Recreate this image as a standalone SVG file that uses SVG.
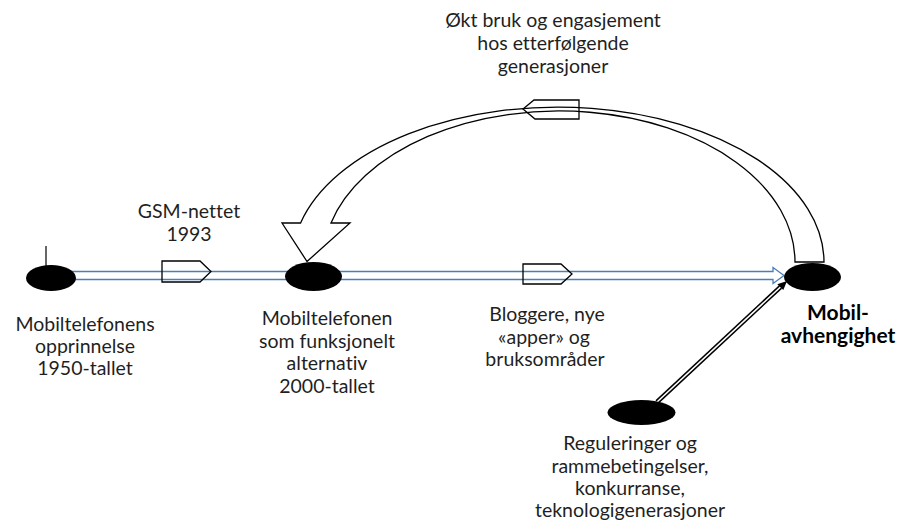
<svg xmlns="http://www.w3.org/2000/svg" width="900" height="524" viewBox="0 0 900 524">
  <style>
    .node { fill: #000; }
    .lbl { font-family: Lato, "Open Sans", sans-serif; font-size: 19.5px; fill: #1f1f1f; text-anchor: middle; font-variant-ligatures: none; font-feature-settings: "liga" 0, "clig" 0; }
    .bold { font-weight: bold; font-size: 21px; fill: #000; }
    .tag { fill: none; stroke: #000; stroke-width: 1.3; stroke-linejoin: miter; }
    .flow { fill: #fff; stroke: #4A7EBB; stroke-width: 1.3; }
    .loop { fill: #fff; stroke: #000; stroke-width: 1.3; stroke-linejoin: miter; }
  </style>

  <g id="connectors">
    <!-- timeline: hollow blue arrow with a narrow shaft -->
    <path class="flow" d="M 50 271.5 L 773 271.5 L 773 267.5 L 784 275.5 L 773 283.5 L 773 279.5 L 50 279.5 Z"/>
    <!-- start tick -->
    <line x1="46" y1="246" x2="46" y2="268" stroke="#000" stroke-width="1.2"/>
    <!-- feedback loop: curved block arrow back to the 2000s node -->
    <path class="loop" d="M 824 262 A 266 155 0 0 0 300.6 223 L 282 223 L 307 261.5 L 350 223 L 331 223 A 236 151 0 0 1 795 262 Z"/>
    <!-- regulation: double line with arrowhead -->
    <line x1="657" y1="402" x2="780.5" y2="287" stroke="#000" stroke-width="4.6"/>
    <line x1="657" y1="402" x2="780.5" y2="287" stroke="#fff" stroke-width="1.6"/>
    <polygon points="787,281 783.3,290 777.3,284.3" fill="#000"/>
    <!-- pentagon tags on the timeline and the loop -->
    <polygon class="tag" points="162,261 200,261 211,271.5 200,282 162,282"/>
    <polygon class="tag" points="523,264 561,264 572,274 561,284 523,284"/>
    <polygon class="tag" points="523,109 534,100 579,100 579,119 535,119"/>
  </g>

  <g id="n-origin">
    <ellipse class="node" cx="51" cy="278" rx="25" ry="13"/>
    <text class="lbl" x="85" y="330.5">Mobiltelefonens</text>
    <text class="lbl" x="85" y="352.5">opprinnelse</text>
    <text class="lbl" x="85" y="375">1950-tallet</text>
  </g>

  <g id="n-gsm">
    <text class="lbl" x="189" y="218">GSM-nettet</text>
    <text class="lbl" x="189" y="241">1993</text>
  </g>

  <g id="n-alternative">
    <ellipse class="node" cx="313.5" cy="276.5" rx="28.5" ry="14.5"/>
    <text class="lbl" x="327" y="325">Mobiltelefonen</text>
    <text class="lbl" x="327" y="347.5">som funksjonelt</text>
    <text class="lbl" x="327" y="370">alternativ</text>
    <text class="lbl" x="327" y="392.5">2000-tallet</text>
  </g>

  <g id="n-bloggers">
    <text class="lbl" x="547" y="321">Bloggere, nye</text>
    <text class="lbl" x="544" y="343.5">«apper» og</text>
    <text class="lbl" x="545" y="366">bruksområder</text>
  </g>

  <g id="n-generations">
    <text class="lbl" x="553" y="27">Økt bruk og engasjement</text>
    <text class="lbl" x="553" y="50">hos etterfølgende</text>
    <text class="lbl" x="553" y="73">generasjoner</text>
  </g>

  <g id="n-dependency">
    <ellipse class="node" cx="812.5" cy="277" rx="28.5" ry="14"/>
    <text class="lbl bold" x="838" y="320">Mobil-</text>
    <text class="lbl bold" x="838" y="343">avhengighet</text>
  </g>

  <g id="n-regulation">
    <ellipse class="node" cx="641.5" cy="412.5" rx="34" ry="12.5"/>
    <text class="lbl" x="630" y="450">Reguleringer og</text>
    <text class="lbl" x="630" y="472.5">rammebetingelser,</text>
    <text class="lbl" x="630" y="495">konkurranse,</text>
    <text class="lbl" x="630" y="517">teknologigenerasjoner</text>
  </g>
</svg>
